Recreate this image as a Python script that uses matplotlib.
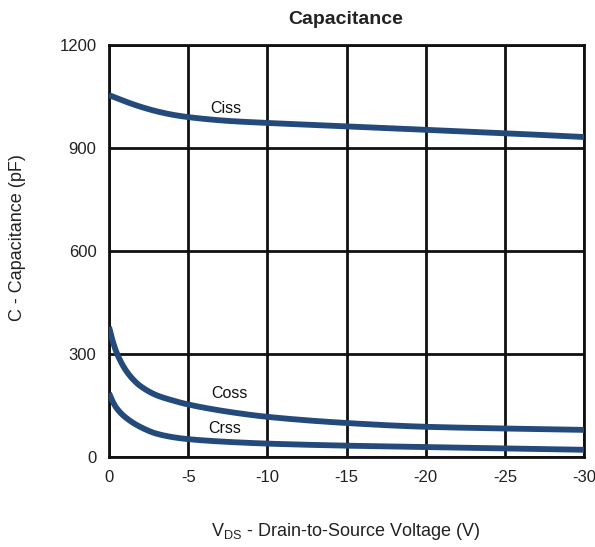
import matplotlib
matplotlib.use("Agg")
import matplotlib.pyplot as plt
import numpy as np

plt.rcParams['font.family'] = ['Liberation Sans', 'DejaVu Sans']
plt.rcParams['mathtext.fontset'] = 'custom'
plt.rcParams['mathtext.rm'] = 'Liberation Sans'

# Data (V_DS in volts, capacitance in pF)
vds_ciss = [0, -1, -2, -3, -4, -5, -7.5, -10, -15, -20, -25, -30]
ciss = [1054, 1036, 1020, 1007, 997, 990, 979, 973, 963, 953, 943, 932]

vds_coss = [0, -0.25, -0.5, -1, -1.5, -2, -3, -4, -5, -7.5, -10, -15, -20, -25, -30]
coss = [379, 335, 302, 257, 227, 206, 180, 165, 153, 132, 117, 99, 88, 83, 79]

vds_crss = [0, -0.25, -0.5, -1, -2, -3, -4, -5, -7.5, -10, -15, -20, -25, -30]
crss = [186, 160, 141, 117, 87, 68, 58, 52, 44, 39, 33, 29, 25, 21]

x_ticks = [0, -5, -10, -15, -20, -25, -30]
y_ticks = [0, 300, 600, 900, 1200]

curve_color = '#234a7a'


def smooth(xs, ys, n=400):
    xs = np.asarray(xs, float)
    ys = np.asarray(ys, float)
    # monotone cubic (PCHIP) interpolation for a smooth drawn curve
    x = -xs
    h = np.diff(x)
    d = np.diff(ys) / h
    m = np.zeros_like(ys)
    for k in range(1, len(x) - 1):
        if d[k - 1] * d[k] <= 0:
            m[k] = 0
        else:
            w1 = 2 * h[k] + h[k - 1]
            w2 = h[k] + 2 * h[k - 1]
            m[k] = (w1 + w2) / (w1 / d[k - 1] + w2 / d[k])
    m[0] = d[0]
    m[-1] = d[-1]
    xx = np.linspace(x[0], x[-1], n)
    yy = np.empty_like(xx)
    for i, xv in enumerate(xx):
        k = min(np.searchsorted(x, xv, side='right') - 1, len(x) - 2)
        t = (xv - x[k]) / h[k]
        h00 = 2 * t**3 - 3 * t**2 + 1
        h10 = t**3 - 2 * t**2 + t
        h01 = -2 * t**3 + 3 * t**2
        h11 = t**3 - t**2
        yy[i] = h00 * ys[k] + h10 * h[k] * m[k] + h01 * ys[k + 1] + h11 * h[k] * m[k + 1]
    return -xx, yy


fig = plt.figure(figsize=(5.95, 5.47), dpi=100)
ax = fig.add_axes([109 / 595, 1 - 457 / 547, 475 / 595, 412 / 547])

for xs, ys in [(vds_ciss, ciss), (vds_coss, coss), (vds_crss, crss)]:
    sx, sy = smooth(xs, ys)
    ax.plot(sx, sy, color=curve_color, lw=4.2, solid_capstyle='butt', zorder=3)

ax.set_xlim(0, -30)
ax.set_ylim(0, 1200)
ax.set_xticks(x_ticks)
ax.set_xticklabels([str(v) for v in x_ticks])
ax.set_yticks(y_ticks)
ax.set_yticklabels([str(v) for v in y_ticks])
ax.tick_params(length=0, labelsize=12, pad=9, colors='#222222')
ax.grid(True, color='#111111', lw=2)
for s in ax.spines.values():
    s.set_linewidth(2)
    s.set_color('#111111')

ax.text(-7.4, 1015, 'Ciss', fontsize=11.5, ha='center', va='center', color='#111111')
ax.text(-7.6, 186, 'Coss', fontsize=11.5, ha='center', va='center', color='#111111')
ax.text(-7.3, 82, 'Crss', fontsize=11.5, ha='center', va='center', color='#111111')

fig.text(346 / 595, 1 - 20 / 547, 'Capacitance', fontsize=14, fontweight='bold',
         ha='center', va='center', color='#222222')
fig.text(346 / 595, 1 - 531 / 547, r'V$_{\rm DS}$ - Drain-to-Source Voltage (V)',
         fontsize=13, ha='center', va='center', color='#222222')
fig.text(18 / 595, 1 - 238 / 547, 'C - Capacitance (pF)', fontsize=13, rotation=90,
         ha='center', va='center', color='#222222')

fig.savefig('out.png', dpi=100, facecolor='white')
